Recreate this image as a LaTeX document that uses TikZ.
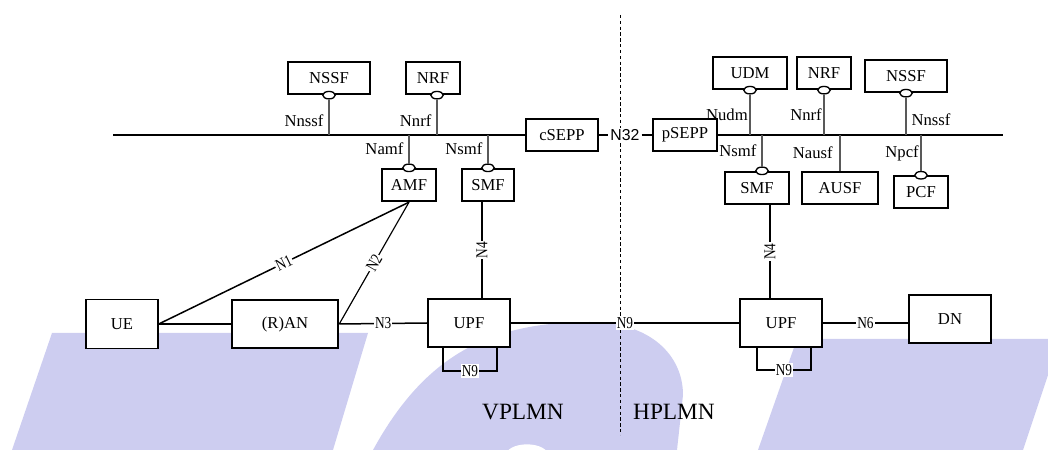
\documentclass[tikz,border=0pt]{standalone}
\usepackage{fontspec}
\setmainfont{Liberation Serif}
\setsansfont{Liberation Sans}
\newfontfamily\narrowfont[FakeStretch=0.8]{Liberation Serif}
\usepackage{tikz}
\usetikzlibrary{positioning, shapes.geometric}
\definecolor{wmark}{RGB}{205,205,240}

\begin{document}
\begin{tikzpicture}[x=0.6pt, y=-0.6pt,
    nf/.style={draw, fill=white, line width=1.1pt, minimum height=19.5pt, inner sep=1pt},
    port/.style={ellipse, draw, fill=white, line width=0.8pt, minimum width=7.5pt, minimum height=4.5pt, inner sep=0pt},
    bus/.style={line width=1.3pt},
    stub/.style={black!65, line width=0.7pt},
    ifl/.style={font=\fontsize{10}{12}\selectfont, text=black, inner sep=3pt},
    ref/.style={font=\narrowfont\fontsize{10}{12}\selectfont, fill=white, inner sep=0.6pt},
    link/.style={line width=0.9pt}]
            \useasboundingbox (0,0) rectangle (1048,450);

            % background
            \fill[wmark] (52,333) -- (368,333) -- (333,450) -- (12,450) -- cycle;
            \fill[wmark] (797,339) -- (1048,339) -- (1048,375) -- (1023,450) -- (758,450) -- cycle;
            \fill[wmark] (373,450) .. controls (425,355) and (490,322) .. (590,322)
                .. controls (650,322) and (683,355) .. (683,395) -- (677,450) -- cycle;
            \fill[white] (527,456) ellipse [x radius=13pt, y radius=7pt];

            \coordinate (divT) at (620,15);
            \coordinate (divB) at (620,435);
            \draw[line width=0.5pt, dash pattern=on 2pt off 1.5pt] (divT) -- (divB);

            % VPLMN
            \node[nf, minimum width=49pt] (NSSF1) at (329,78) {NSSF};
            \node[nf, minimum width=32pt] (NRF1) at (433,78) {NRF};
            \node[nf, minimum width=32pt] (AMF) at (409,185) {AMF};
            \node[nf, minimum width=31pt] (SMF1) at (488,185) {SMF};
            \node[nf, minimum width=43pt] (cSEPP) at (562,135) {cSEPP};
            \node[nf, minimum width=43pt, minimum height=29.4pt] (UE) at (122,324) {UE};
            \node[nf, minimum width=64pt, minimum height=29pt] (RAN) at (285,324) {(R)AN};
            \node[nf, minimum width=49pt, minimum height=29pt] (UPF1) at (469,323) {UPF};

            % HPLMN
            \node[nf, minimum width=38pt] (pSEPP) at (685,135) {pSEPP};
            \node[nf, minimum width=44pt] (UDM) at (750,73) {UDM};
            \node[nf, minimum width=32pt] (NRF2) at (824,73) {NRF};
            \node[nf, minimum width=49pt] (NSSF2) at (906,76) {NSSF};
            \node[nf, minimum width=38pt] (SMF2) at (757,188) {SMF};
            \node[nf, minimum width=46pt] (AUSF) at (840,188) {AUSF};
            \node[nf, minimum width=32pt, minimum height=19pt] (PCF) at (921,192) {PCF};
            \node[nf, minimum width=49pt, minimum height=29pt] (UPF2) at (781,323) {UPF};
            \node[nf, minimum width=49pt, minimum height=29pt] (DN) at (950,319) {DN};

            \node[font=\fontsize{14}{16}\selectfont] (VP) at (523,412) {VPLMN};
            \node[font=\fontsize{14}{16}\selectfont] (HP) at (674,412) {HPLMN};

            % service ports
            \node[port] (pNSSF1) at (NSSF1.south) {};
            \node[port, xshift=2.4pt] (pNRF1) at (NRF1.south) {};
            \node[port] (pAMF) at (AMF.north) {};
            \node[port] (pSMF1) at (SMF1.north) {};
            \node[port] (pUDM) at (UDM.south) {};
            \node[port] (pNRF2) at (NRF2.south) {};
            \node[port] (pNSSF2) at (NSSF2.south) {};
            \node[port, xshift=3pt] (pSMF2) at (SMF2.north) {};
            \node[port] (pPCF) at (PCF.north) {};

            % buses
            \coordinate (busL) at (113,135);
            \coordinate (busR) at (1003,135);
            \draw[bus] (busL) -- (cSEPP.west);
            \draw[bus] (pSEPP.east) -- (busR);
            \node[font=\sffamily\fontsize{9.5}{11}\selectfont, fill=white, inner sep=1pt] (N32) at (625,135) {N32};
            \draw[link] (cSEPP) -- (N32) -- (pSEPP);

            \draw[stub] (pNSSF1) -- node[ifl, left, pos=.6] {Nnssf} (pNSSF1 |- busL);
            \draw[stub] (pNRF1) -- node[ifl, left, pos=.6] {Nnrf} (pNRF1 |- busL);
            \draw[stub] (pAMF |- busL) -- node[ifl, left] {Namf} (pAMF);
            \draw[stub] (pSMF1 |- busL) -- node[ifl, left] {Nsmf} (pSMF1);
            \draw[stub] (pUDM) -- node[ifl, left, inner sep=1pt] {Nudm} (pUDM |- busR);
            \draw[stub] (pNRF2) -- node[ifl, left, inner sep=1pt] {Nnrf} (pNRF2 |- busR);
            \draw[stub] (pNSSF2) -- node[ifl, right, pos=.6] {Nnssf} (pNSSF2 |- busR);
            \draw[stub] (pSMF2 |- busR) -- node[ifl, left] {Nsmf} (pSMF2);
            \draw[stub] (AUSF.north |- busR) -- node[ifl, left, inner sep=4pt] {Nausf} (AUSF.north);
            \draw[stub] (pPCF |- busR) -- node[ifl, left, inner sep=1pt] {Npcf} (pPCF);

            % reference points
            \draw[link] (UE.east) -- (RAN.west);
            \draw[link] (UE.east) -- node[ref, sloped] {N1} (AMF.south);
            \draw[line width=0.7pt] (RAN.east) -- node[ref, sloped] {N2} (AMF.south);
            \draw[link] (RAN.east) -- node[ref] {N3} (UPF1.west);
            \draw[line width=0.7pt] ([xshift=-3.6pt]SMF1.south) -- node[ref, rotate=90] {N4} ([xshift=-3.6pt]SMF1.south |- UPF1.north);
            \draw[link] (UPF1.east) -- node[ref] {N9} (UPF2.west);
            \draw[line width=0.7pt] ([xshift=7.8pt]SMF2.south) -- node[ref, rotate=90] {N4} ([xshift=7.8pt]SMF2.south |- UPF2.north);
            \draw[link] (UPF2.east) -- node[ref] {N6} (UPF2.east -| DN.west);
            \draw[line width=0.7pt] (UPF1.south) ++(-26,0) -- ++(0,23) -- node[ref] {N9} ++(54,0) -- ++(0,-23);
            \draw[line width=0.7pt] (UPF2.south) ++(-24,0) -- ++(0,22) -- node[ref] {N9} ++(54,0) -- ++(0,-22);
        \end{tikzpicture}
\end{document}
